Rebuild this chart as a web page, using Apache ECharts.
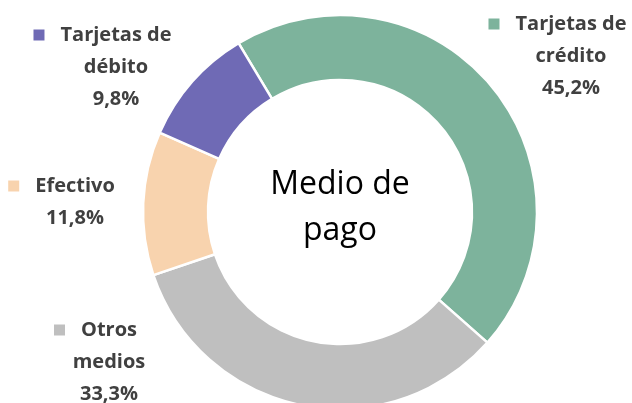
<!DOCTYPE html>
<html>
<head>
<meta charset="utf-8">
<script src="https://cdn.jsdelivr.net/npm/echarts@6/dist/echarts.min.js"></script>
<style>
  html, body { margin: 0; padding: 0; background: #fff; }
  #main { width: 632px; height: 403px; }
</style>
</head>
<body>
<div id="main"></div>
<script>
// data, clockwise from the top-left boundary
const names = ['Tarjetas de\ncrédito', 'Otros\nmedios', 'Efectivo', 'Tarjetas de\ndébito']
const values = [45.2, 33.3, 11.8, 9.8]
const valueLabels = ['45,2%', '33,3%', '11,8%', '9,8%']
const colors = ['#7db39c', '#bfbfbf', '#f8d3ae', '#6f6ab5']

// where each label block sits (center of the text block)
const labelPos = [[571, 56], [109, 362], [75, 202], [116, 67]]

const chart = echarts.init(document.getElementById('main'))

const data = names.map((n, i) => {
  const lines = n.split('\n')
  let txt = '{m|}{g|}{b|' + lines[0] + '}{g|}{s|}'
  for (let k = 1; k < lines.length; k++) txt += '\n{b|' + lines[k] + '}'
  txt += '\n{b|' + valueLabels[i] + '}'
  return {
    name: n.replace('\n', ' '),
    value: values[i],
    itemStyle: { color: colors[i] },
    label: {
      formatter: txt,
      rich: {
        m: { width: 11, height: 11, backgroundColor: colors[i] },
        g: { width: 16 },
        s: { width: 11 },
        b: {
          fontFamily: 'Open Sans',
          fontWeight: 'bold',
          fontSize: 20,
          color: '#404040',
          lineHeight: 32
        }
      }
    }
  }
})

chart.setOption({
  animation: false,
  graphic: [{
    type: 'text',
    x: 340,
    y: 208,
    style: {
      text: 'Medio de\npago',
      fill: '#000',
      font: '32px "Open Sans"',
      lineHeight: 46,
      align: 'center',
      verticalAlign: 'middle'
    }
  }],
  series: [{
    type: 'pie',
    center: [340, 212],
    radius: [132, 197],
    startAngle: 121,
    clockwise: true,
    avoidLabelOverlap: false,
    itemStyle: { borderColor: '#fff', borderWidth: 2.5 },
    label: { show: true, position: 'outside', align: 'center' },
    labelLine: { show: false },
    labelLayout: function (p) {
      const pos = labelPos[p.dataIndex]
      return { x: pos[0], y: pos[1], align: 'center', verticalAlign: 'middle' }
    },
    data: data
  }]
})
</script>
</body>
</html>
